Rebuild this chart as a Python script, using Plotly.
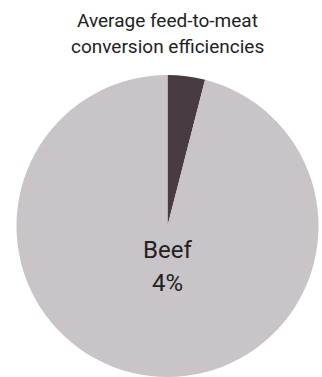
import plotly.graph_objects as go

labels = ["Beef", "Other"]
values = [4, 96]
colors = ["#483b42", "#c9c4c7"]
title_lines = ["Average feed-to-meat", "conversion efficiencies"]

FONT = "Roboto, sans-serif"
TEXT_COLOR = "#222222"

fig = go.Figure(go.Pie(
    labels=labels,
    values=values,
    marker=dict(colors=colors, line=dict(width=0)),
    sort=False,
    direction="clockwise",
    rotation=0,
    textinfo="none",
    hoverinfo="label+percent",
    showlegend=False,
))

# slice label (name and share), placed inside the large slice like the reference
pct = values[0] / sum(values) * 100
for txt, shift in [(labels[0], 377 - 249.5), (f"{pct:.0f}%", 377 - 282.5)]:
    fig.add_annotation(
        text=txt, xref="paper", yref="paper", x=0.5, y=0, yshift=shift,
        yanchor="middle", showarrow=False,
        font=dict(family=FONT, size=24, color=TEXT_COLOR),
    )

# two-line title
for txt, shift in [(title_lines[0], 75 - 20), (title_lines[1], 75 - 46.5)]:
    fig.add_annotation(
        text=txt, xref="paper", yref="paper", x=0.5, y=1, yshift=shift,
        yanchor="middle", showarrow=False,
        font=dict(family=FONT, size=19, color=TEXT_COLOR),
    )

fig.update_layout(
    width=322, height=377,
    margin=dict(l=16, r=3, t=75, b=0),
    paper_bgcolor="white",
    plot_bgcolor="white",
)

fig.write_html("out.html", config={"displayModeBar": False},
               post_script="document.body.style.margin='0';")
